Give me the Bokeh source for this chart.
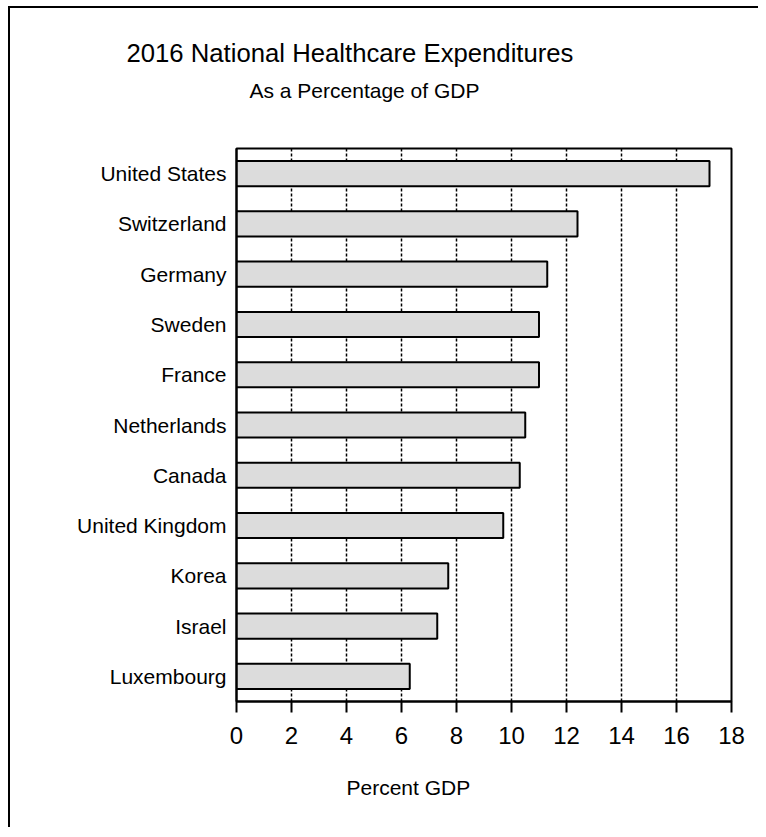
from bokeh.plotting import figure
from bokeh.models import (ColumnDataSource, FactorRange, Range1d, FixedTicker,
                          Title)
from bokeh.embed import file_html
from bokeh.resources import INLINE

# ---- data ----
countries = ["United States", "Switzerland", "Germany", "Sweden", "France",
             "Netherlands", "Canada", "United Kingdom", "Korea", "Israel",
             "Luxembourg"]
pct_gdp = [17.2, 12.4, 11.3, 11.0, 11.0, 10.5, 10.3, 9.7, 7.7, 7.3, 6.3]
x_ticks = [0, 2, 4, 6, 8, 10, 12, 14, 16, 18]
grid_ticks = [2, 4, 6, 8, 10, 12, 14, 16]
title_text = "2016 National Healthcare Expenditures"
subtitle_text = "As a Percentage of GDP"
xlabel_text = "Percent GDP"

FONT = "Liberation Sans"

source = ColumnDataSource(data=dict(country=countries, value=pct_gdp))

p = figure(width=750, height=821,
           y_range=FactorRange(factors=countries[::-1]),
           x_range=Range1d(0, 18),
           output_backend="svg", toolbar_location=None, tools="",
           min_border_left=226, min_border_right=29,
           min_border_top=140, min_border_bottom=128,
           styles={"margin-left": "8px", "margin-top": "6px",
                   "border-left": "2px solid black",
                   "border-top": "2px solid black"})

p.background_fill_color = "white"
p.border_fill_color = "white"
p.outline_line_color = "black"
p.outline_line_width = 2

p.hbar(y="country", left=0, right="value", height=0.5, source=source,
       fill_color="#dcdcdc", line_color="black", line_width=2)

# grid
p.ygrid.grid_line_color = None
p.xgrid.ticker = FixedTicker(ticks=grid_ticks)
p.xgrid.grid_line_color = "black"
p.xgrid.grid_line_width = 1.5
p.xgrid.grid_line_dash = "3 2"

# x axis
xa = p.xaxis[0]
xa.ticker = FixedTicker(ticks=x_ticks)
xa.minor_tick_line_color = None
xa.major_tick_in = 0
xa.major_tick_out = 11
xa.major_tick_line_width = 2
xa.major_tick_line_color = "black"
xa.axis_line_color = "black"
xa.axis_line_width = 2
xa.major_label_text_font = FONT
xa.major_label_text_font_size = "24px"
xa.major_label_text_color = "black"
xa.major_label_standoff = 14

# y axis
ya = p.yaxis[0]
ya.major_tick_in = 0
ya.major_tick_out = 0
ya.minor_tick_line_color = None
ya.axis_line_color = "black"
ya.axis_line_width = 2
ya.major_label_text_font = FONT
ya.major_label_text_font_size = "21px"
ya.major_label_text_color = "black"
ya.major_label_standoff = 10

# titles (first added = closest to the frame)
p.add_layout(Title(text=" ", text_font_size="2px", standoff=38), "above")
p.add_layout(Title(text=subtitle_text, align="left", offset=13,
                   text_font=FONT, text_font_size="21px",
                   text_font_style="normal", text_color="black"), "above")
p.add_layout(Title(text=title_text, align="left", offset=-110,
                   text_font=FONT, text_font_size="25.7px",
                   text_font_style="normal", text_color="black"), "above")

# x axis label placed as a title below the axis
p.add_layout(Title(text=xlabel_text, align="left", offset=110, standoff=54,
                   text_font=FONT, text_font_size="21px",
                   text_font_style="normal", text_color="black"), "below")

open("out.html", "w").write(file_html(p, INLINE))
